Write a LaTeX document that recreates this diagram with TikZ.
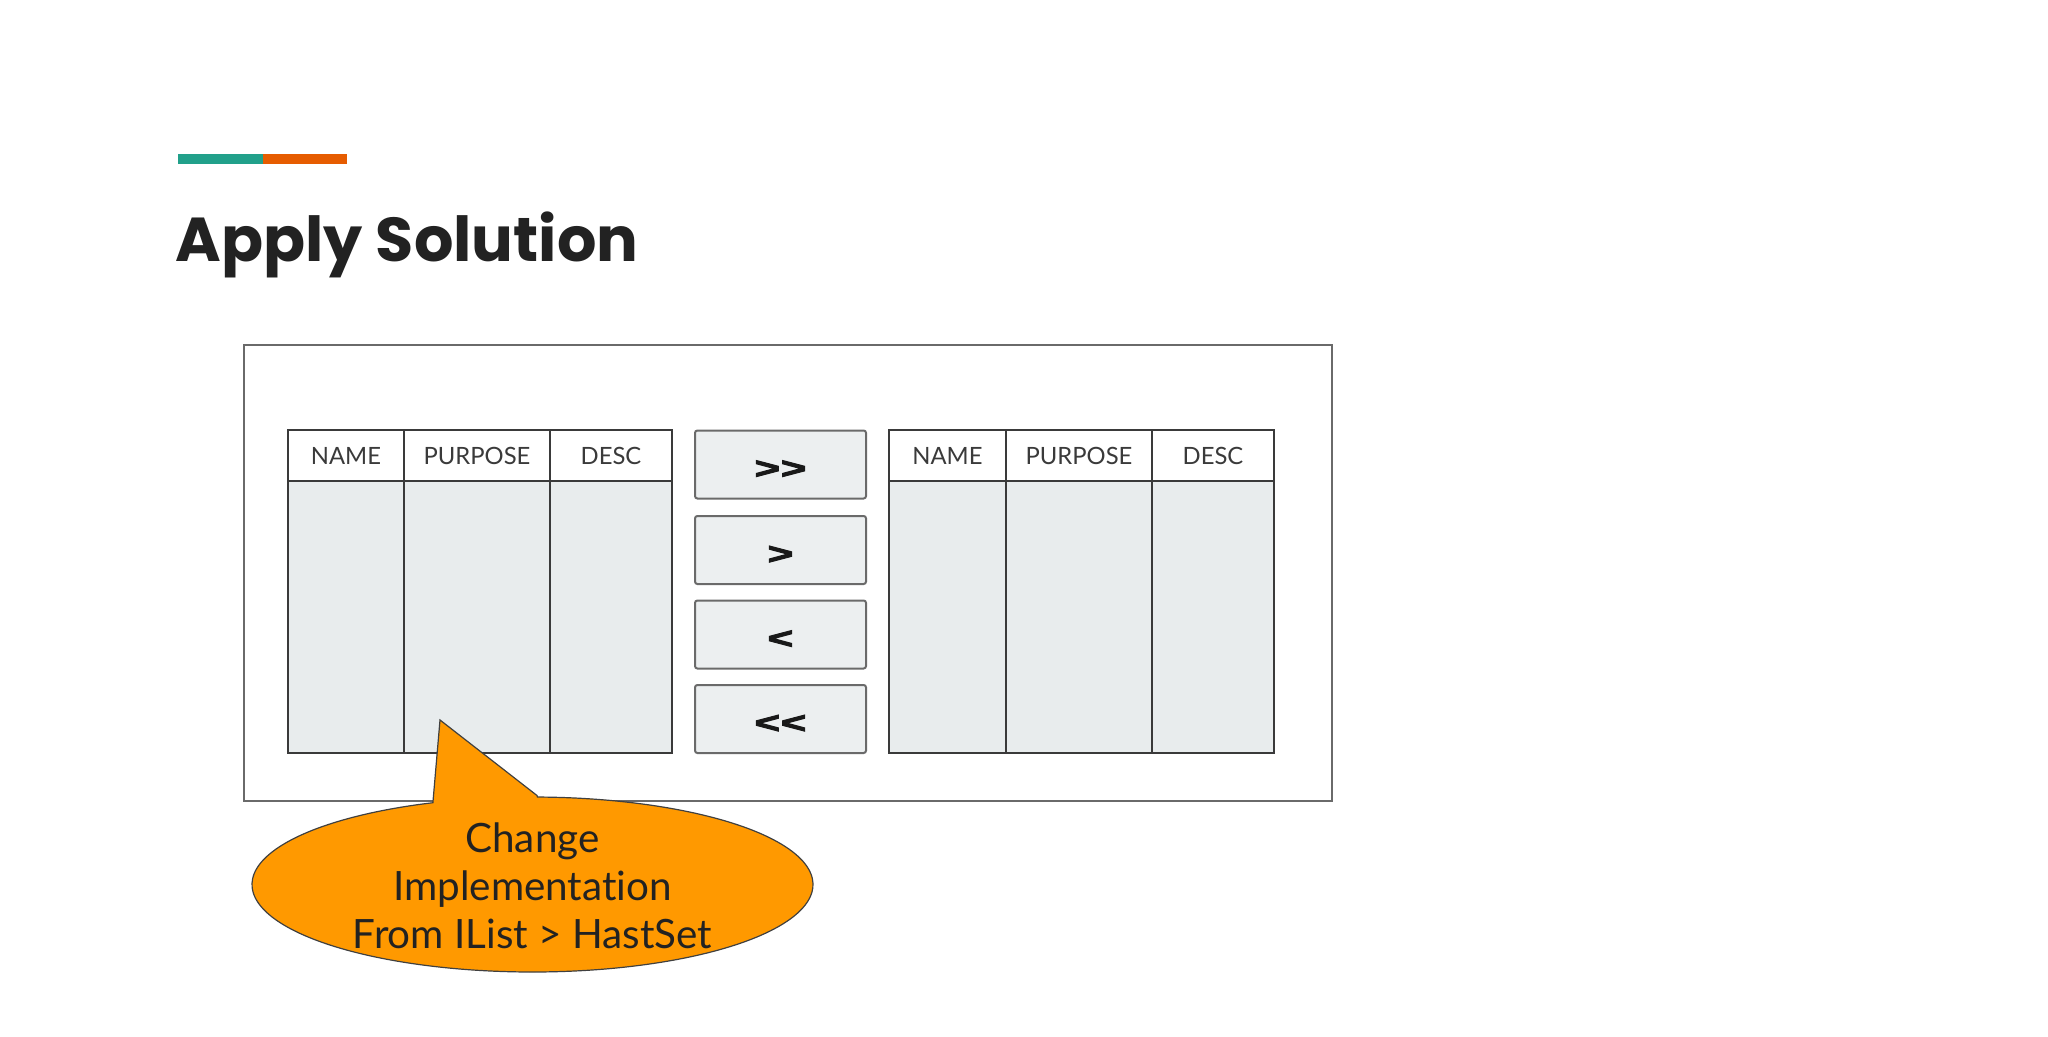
\documentclass[tikz,border=0pt]{standalone}
\usepackage{fontspec}
\setmainfont{Lato}[Ligatures=NoCommon]
\newfontfamily\titlefont{Poppins}
\newfontfamily\btnfont{Liberation Sans Bold}[FakeBold=3]
\usepackage{graphicx}
\definecolor{teal1}{HTML}{21A08A}
\definecolor{orange1}{HTML}{E65C00}
\definecolor{titlecol}{HTML}{222222}
\definecolor{linecol}{HTML}{3A3A3A}
\definecolor{bodycol}{HTML}{E8ECED}
\definecolor{btncol}{HTML}{ECEFF0}
\definecolor{calloutcol}{HTML}{FF9900}
\definecolor{boxcol}{HTML}{6A6A6A}
\tikzset{
  hdrcell/.style={draw=linecol, line width=1pt, fill=white, minimum height=25.5pt,
    inner sep=0pt, font=\fontsize{11.9}{14}\selectfont, text=linecol},
  bodycell/.style={draw=linecol, line width=1pt, fill=bodycol, minimum height=136pt, inner sep=0pt},
  btnbox/.style={draw=boxcol, line width=1pt, fill=btncol, rounded corners=1.2pt,
    minimum width=85.5pt, minimum height=34pt, inner sep=0pt},
  btntext/.style={inner sep=0pt, font=\btnfont\fontsize{15}{16}\selectfont, text=black!90},
  callouttext/.style={align=center, font=\fontsize{20.2}{24}\selectfont, text=titlecol, inner sep=0pt},
}
\newcommand{\wideglyph}[1]{\scalebox{1.45}[1]{#1}}
\begin{document}
\begin{tikzpicture}[x=0.5pt,y=-0.5pt]
\useasboundingbox[fill=white] (0,0) rectangle (2048,1037);
% accent bar
\fill[teal1] (178,154) rectangle (263,164);
\fill[orange1] (263,154) rectangle (347,164);
% title
\node[anchor=base west, inner sep=0pt, font=\titlefont\bfseries\fontsize{31}{34}\selectfont, text=titlecol] (title) at (175,262) {Apply Solution};
% outer frame
\draw[boxcol, line width=0.8pt] (244,345) rectangle (1332,801);
% left table
\node[hdrcell, minimum width=58pt] (lh1) at (346,455.5) {NAME};
\node[hdrcell, minimum width=73pt] (lh2) at (477,455.5) {PURPOSE};
\node[hdrcell, minimum width=61pt] (lh3) at (611,455.5) {DESC};
\node[bodycell, minimum width=58pt] (lb1) at (346,617) {};
\node[bodycell, minimum width=73pt] (lb2) at (477,617) {};
\node[bodycell, minimum width=61pt] (lb3) at (611,617) {};
% buttons
\node[btnbox] (b1) at (780.5,464.5) {};
\node[btnbox] (b2) at (780.5,550) {};
\node[btnbox] (b3) at (780.5,634.5) {};
\node[btnbox] (b4) at (780.5,719) {};
\node[btntext] (t1) at ([yshift=-2.5pt]b1.center) {\wideglyph{>\kern0.3pt>}};
\node[btntext] (t2) at ([yshift=-2.5pt]b2.center) {\wideglyph{>}};
\node[btntext] (t3) at ([yshift=-2.5pt]b3.center) {\wideglyph{<}};
\node[btntext] (t4) at ([yshift=-2.5pt]b4.center) {\wideglyph{<\kern0.3pt<}};
% right table
\node[hdrcell, minimum width=58.5pt] (rh1) at (947.5,455.5) {NAME};
\node[hdrcell, minimum width=73pt] (rh2) at (1079,455.5) {PURPOSE};
\node[hdrcell, minimum width=61pt] (rh3) at (1213,455.5) {DESC};
\node[bodycell, minimum width=58.5pt] (rb1) at (947.5,617) {};
\node[bodycell, minimum width=73pt] (rb2) at (1079,617) {};
\node[bodycell, minimum width=61pt] (rb3) at (1213,617) {};
% callout
\coordinate (tip) at (440,720);
\draw[fill=calloutcol, draw=black!75, line width=0.6pt]
  (tip) -- (537,795.5)
  -- plot[domain=89:-249.2, samples=120, smooth] ({532.5+280.5*cos(\x)},{884.5-87.5*sin(\x)})
  -- cycle;
\node[callouttext] (ctext) at (532.5,886) {Change\\Implementation\\From IList > HastSet};
\end{tikzpicture}
\end{document}
